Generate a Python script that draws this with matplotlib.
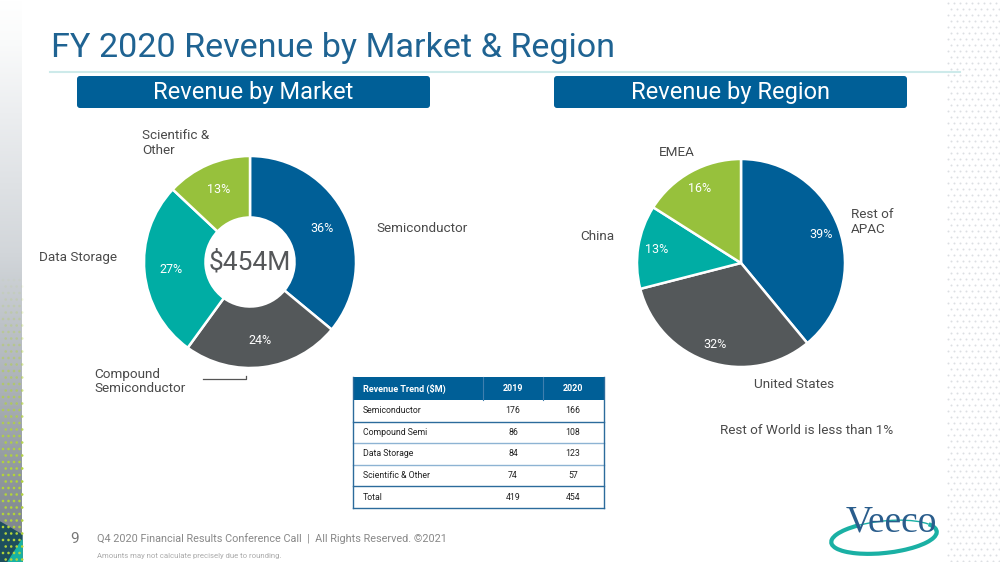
import numpy as np
import matplotlib
matplotlib.use("Agg")
import matplotlib.pyplot as plt
from matplotlib.patches import FancyBboxPatch, Rectangle, Arc, Polygon
from matplotlib.colors import LinearSegmentedColormap, to_rgba

# ---------------- data ----------------
title = "FY 2020 Revenue by Market & Region"
market_labels = ["Semiconductor", "Compound\nSemiconductor", "Data Storage", "Scientific &\nOther"]
market_share = [36, 24, 27, 13]
market_total = "$454M"

region_labels = ["Rest of\nAPAC", "United States", "China", "EMEA"]
region_share = [39, 32, 13, 16]

table_header = ["Revenue Trend ($M)", "2019", "2020"]
table_rows = ["Semiconductor", "Compound Semi", "Data Storage", "Scientific & Other", "Total"]
rev_2019 = [176, 86, 84, 74, 419]
rev_2020 = [166, 108, 123, 57, 454]

# ---------------- style ----------------
BLUE = "#005f97"
GRAY = "#54585a"
TEAL = "#00ada4"
GREEN = "#97c13c"
TITLE_C = "#1f6392"
LABEL_C = "#4a4a4a"
FONT = ["Roboto", "DejaVu Sans"]
plt.rcParams["font.family"] = FONT

W, H = 1000, 562
fig = plt.figure(figsize=(10, 5.62), dpi=100)
ax = fig.add_axes([0, 0, 1, 1])


def Y(y):
    return H - y


# left decorative strip
grad = np.linspace(0, 1, 256).reshape(-1, 1)
strip_cmap = LinearSegmentedColormap.from_list(
    "s", [(0.0, "#ffffff"), (0.07, "#fafbfb"), (0.2, "#eceef0"), (0.45, "#d2d6da"),
          (0.7, "#aab0b6"), (0.92, "#838b92"), (1.0, "#7a838a")])
ax.imshow(grad, extent=(0, 22, 0, H), aspect="auto", cmap=strip_cmap,
          origin="upper", zorder=0)
gx, gy = np.meshgrid(np.arange(3, 22, 5.5), np.arange(280, 562, 6.5))
gx = gx + (np.arange(gy.shape[0]) % 2)[:, None] * 2.7
al = np.clip((gy - 270) / 200, 0.0, 1.0).ravel()
cols = np.array([to_rgba("#b2d43a", a) for a in al])
ax.scatter(gx.ravel(), Y(gy.ravel()), s=3.5, c=cols, linewidths=0, zorder=1)
ax.add_patch(Polygon([(0, Y(522)), (22, Y(535)), (22, Y(562)), (0, Y(562))],
                     closed=True, color="#1d4f5e", zorder=0.5))
ax.add_patch(Polygon([(8, Y(562)), (22, Y(540)), (22, Y(562))],
                     closed=True, color="#17b3a3", zorder=0.6))

# right decorative dot pattern
rx, ry = np.meshgrid(np.arange(948, 1000, 6.0), np.arange(3, 562, 6.0))
rx = rx + (np.arange(ry.shape[0]) % 2)[:, None] * 3
ax.scatter(rx.ravel(), Y(ry.ravel()), s=2.0, c="#dcdfe2", linewidths=0, zorder=1)

# title
ax.text(51, Y(48), title, fontsize=24.6, color=TITLE_C, va="center", ha="left",
        family=FONT)
ax.plot([50, 960], [Y(72), Y(72)], color="#cdeaea", lw=1.5)

# section headers
for x0, txt in [(77, "Revenue by Market"), (554, "Revenue by Region")]:
    ax.add_patch(FancyBboxPatch((x0, Y(108)), 353, 32,
                                boxstyle="round,pad=0,rounding_size=3",
                                fc=BLUE, ec="none"))
    ax.text(x0 + 176.5, Y(93), txt, color="white", fontsize=17,
            ha="center", va="center")

# ---------------- market donut ----------------
R1 = 106
c1 = (250, Y(262))
ax.pie(market_share, colors=[BLUE, GRAY, TEAL, GREEN], startangle=90,
       counterclock=False, radius=R1, center=c1, frame=True,
       wedgeprops=dict(width=R1 * 0.58, edgecolor="white", linewidth=1.8),
       autopct=lambda p: f"{p:.0f}%", pctdistance=0.75,
       textprops=dict(color="white", fontsize=9))
ax.text(c1[0], c1[1], market_total, fontsize=19, color="#555759",
        ha="center", va="center")

lab_kw = dict(fontsize=9.7, color=LABEL_C, linespacing=1.15)
ax.text(376, Y(229), market_labels[0], ha="left", va="center", **lab_kw)
ax.text(94, Y(381.5), market_labels[1], ha="left", va="center", **lab_kw)
ax.text(39, Y(258), market_labels[2], ha="left", va="center", **lab_kw)
ax.text(142, Y(143), market_labels[3], ha="left", va="center", **lab_kw)
ax.plot([203, 246, 246], [Y(379), Y(379), Y(376)], color="#555", lw=0.9)

# ---------------- region pie ----------------
R2 = 104
c2 = (741, Y(263))
ax.pie(region_share, colors=[BLUE, GRAY, TEAL, GREEN], startangle=90,
       counterclock=False, radius=R2, center=c2, frame=True,
       wedgeprops=dict(edgecolor="white", linewidth=1.8),
       autopct=lambda p: f"{p:.0f}%", pctdistance=0.82,
       textprops=dict(color="white", fontsize=9))
ax.text(851, Y(222), region_labels[0], ha="left", va="center", **lab_kw)
ax.text(794, Y(384), region_labels[1], ha="center", va="center", **lab_kw)
ax.text(580, Y(236), region_labels[2], ha="left", va="center", **lab_kw)
ax.text(677, Y(152), region_labels[3], ha="center", va="center", **lab_kw)
ax.text(807, Y(430), "Rest of World is less than 1%", ha="center", va="center",
        **lab_kw)

# ---------------- table ----------------
tx0, tx1 = 353, 604
col_c = [363, 513, 573]
top, head_b = 377, 400
row_h = 21.6
ax.add_patch(Rectangle((tx0, Y(head_b)), tx1 - tx0, head_b - top, fc=BLUE, ec="none"))
for xd in (483, 543):
    ax.plot([xd, xd], [Y(top), Y(head_b)], color="#3f7fae", lw=0.8)
ax.text(col_c[0], Y((top + head_b) / 2), table_header[0], color="white",
        fontsize=6.5, fontweight="bold", ha="left", va="center")
for j in (1, 2):
    ax.text(col_c[j], Y((top + head_b) / 2), table_header[j], color="white",
            fontsize=6.5, fontweight="bold", ha="center", va="center")
line_cols = ["#2c6b9c", "#8db3d3", "#8db3d3", "#2c6b9c", "#2c6b9c"]
for i, name in enumerate(table_rows):
    yt = head_b + i * row_h
    yc = yt + row_h / 2
    ax.text(col_c[0], Y(yc), name, fontsize=6.3, color="#222", ha="left", va="center")
    ax.text(col_c[1], Y(yc), str(rev_2019[i]), fontsize=6.3, color="#222",
            ha="center", va="center")
    ax.text(col_c[2], Y(yc), str(rev_2020[i]), fontsize=6.3, color="#222",
            ha="center", va="center")
    ax.plot([tx0, tx1], [Y(yt + row_h), Y(yt + row_h)], color=line_cols[i], lw=1.0)
tb = head_b + len(table_rows) * row_h
ax.plot([tx0, tx0], [Y(top), Y(tb)], color="#2c6b9c", lw=1.0)
ax.plot([tx1, tx1], [Y(top), Y(tb)], color="#2c6b9c", lw=1.0)

# ---------------- footer ----------------
ax.text(70, Y(539), "9", fontsize=11, color="#777", ha="left", va="center")
ax.text(97, Y(539), "Q4 2020 Financial Results Conference Call  |  All Rights Reserved. \u00a92021",
        fontsize=7.8, color="#888", ha="left", va="center")
ax.text(97, Y(556), "Amounts may not calculate precisely due to rounding.",
        fontsize=5.6, color="#aaa", ha="left", va="center")

# logo
ax.add_patch(Arc((884, Y(537)), 106, 32, angle=6, theta1=150, theta2=370,
                 color="#1ab0a4", lw=3.0))
ax.add_patch(Arc((884, Y(537)), 106, 32, angle=6, theta1=10, theta2=150,
                 color="#1ab0a4", lw=1.0))
ax.text(891, Y(522), "Veeco", fontsize=27, color="#2a5d8c", ha="center",
        va="center", family=["Liberation Serif", "DejaVu Serif"])

ax.set_xlim(0, W)
ax.set_ylim(0, H)
ax.set_aspect("auto")
ax.axis("off")
fig.savefig("out.png", dpi=100, facecolor="white")
